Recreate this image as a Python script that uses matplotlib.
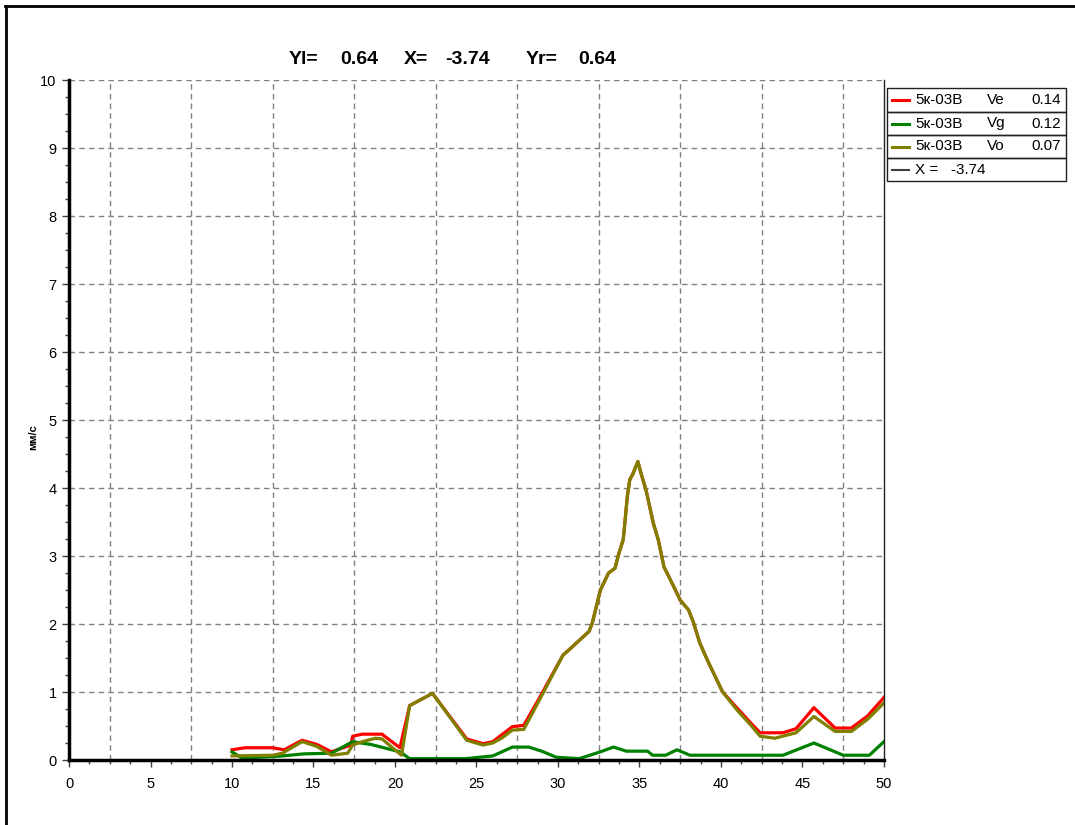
import numpy as np
from matplotlib import pyplot as plt
from matplotlib.lines import Line2D
from matplotlib.patches import Rectangle
from matplotlib.ticker import MultipleLocator

# Ve (red)
x_ve = [10.0, 10.8, 12.5, 13.2, 14.3, 15.2, 16.1, 17.3, 17.4, 18.0, 19.2, 20.3,
        20.9, 22.3, 24.4, 25.4, 26.0, 26.6, 27.2, 27.9, 28.9, 30.3, 30.9, 31.9,
        32.1, 32.6, 33.1, 33.5, 33.7, 34.0, 34.1, 34.25, 34.4, 34.6, 34.9, 35.1,
        35.4, 35.85, 36.15, 36.5, 37.1, 37.5, 38.0, 38.3, 38.7, 39.2, 40.1, 41.0,
        41.8, 42.4, 43.8, 44.6, 45.7, 47.0, 48.0, 49.0, 50.0]
ve = [0.15, 0.18, 0.18, 0.15, 0.29, 0.23, 0.12, 0.22, 0.35, 0.38, 0.38, 0.18,
      0.80, 0.98, 0.31, 0.24, 0.27, 0.38, 0.49, 0.51, 0.93, 1.54, 1.67, 1.89,
      2.01, 2.50, 2.75, 2.82, 3.01, 3.24, 3.48, 3.87, 4.12, 4.21, 4.39, 4.21,
      3.97, 3.48, 3.24, 2.84, 2.55, 2.35, 2.21, 2.03, 1.72, 1.45, 1.00, 0.76,
      0.55, 0.40, 0.40, 0.46, 0.77, 0.47, 0.47, 0.65, 0.92]

# Vg (green)
x_vg = [10.0, 10.6, 11.7, 13.1, 14.4, 16.1, 17.4, 17.9, 18.5, 20.3, 20.9, 24.3,
        26.0, 27.2, 28.2, 29.0, 29.9, 31.3, 32.6, 33.4, 34.2, 35.5, 35.8, 36.6,
        37.3, 38.1, 43.8, 45.7, 47.5, 49.1, 50.0]
vg = [0.12, 0.03, 0.04, 0.06, 0.09, 0.10, 0.27, 0.25, 0.23, 0.12, 0.02, 0.02,
      0.06, 0.19, 0.19, 0.13, 0.04, 0.02, 0.12, 0.19, 0.13, 0.13, 0.07, 0.07,
      0.15, 0.07, 0.07, 0.25, 0.07, 0.07, 0.27]

# Vo (olive)
x_vo = [10.0, 12.5, 13.1, 14.3, 15.2, 16.1, 17.1, 17.4, 18.0, 18.8, 19.2, 20.4,
        20.9, 22.3, 24.4, 25.4, 26.0, 26.6, 27.2, 27.9, 28.9, 30.3, 30.9, 31.9,
        32.1, 32.6, 33.1, 33.5, 33.7, 34.0, 34.1, 34.25, 34.4, 34.6, 34.9, 35.1,
        35.4, 35.85, 36.15, 36.5, 37.1, 37.5, 38.0, 38.3, 38.7, 39.2, 40.1, 41.0,
        41.8, 42.4, 43.3, 44.6, 45.7, 47.0, 48.0, 49.0, 50.0]
vo = [0.06, 0.07, 0.10, 0.27, 0.20, 0.07, 0.10, 0.22, 0.27, 0.32, 0.31, 0.07,
      0.80, 0.98, 0.29, 0.22, 0.25, 0.33, 0.44, 0.45, 0.90, 1.54, 1.67, 1.89,
      2.01, 2.50, 2.75, 2.82, 3.01, 3.24, 3.48, 3.87, 4.12, 4.21, 4.39, 4.21,
      3.97, 3.48, 3.24, 2.84, 2.55, 2.35, 2.21, 2.03, 1.72, 1.45, 1.00, 0.73,
      0.52, 0.35, 0.32, 0.40, 0.64, 0.42, 0.42, 0.60, 0.84]

legend_rows = [("5к-03В", "Ve", "0.14", "#ff0000"),
               ("5к-03В", "Vg", "0.12", "#008000"),
               ("5к-03В", "Vo", "0.07", "#808000")]
cursor_x = "-3.74"
title_parts = ["Yl=", "0.64", "X=", "-3.74", "Yr=", "0.64"]

plt.rcParams['font.family'] = ['Liberation Sans', 'DejaVu Sans']

W, H = 1075, 825
fig = plt.figure(figsize=(W / 100, H / 100), dpi=100)
ax = fig.add_axes([69 / W, 1 - 760 / H, (884 - 69) / W, (760 - 80) / H])

grid_kw = dict(color='#808080', lw=1, ls=(0, (4, 3)), zorder=1)
for gx in np.arange(2.5, 50, 5):
    ax.axvline(gx, **grid_kw)
for gy in range(1, 11):
    ax.axhline(gy, **grid_kw)

ax.plot(x_ve, ve, color='#ff0000', lw=2.3, zorder=3)
ax.plot(x_vg, vg, color='#008000', lw=2.3, zorder=4)
ax.plot(x_vo, vo, color='#808000', lw=2.3, zorder=5)

ax.set_xlim(0, 50)
ax.set_ylim(0, 10)
ax.xaxis.set_major_locator(MultipleLocator(5))
ax.xaxis.set_minor_locator(MultipleLocator(1.25))
ax.yaxis.set_major_locator(MultipleLocator(1))
ax.yaxis.set_minor_locator(MultipleLocator(0.25))
ax.tick_params(which='major', length=5, width=1, labelsize=10.5, color='#404040')
ax.tick_params(axis='x', which='major', pad=7)
ax.tick_params(axis='y', which='major', pad=4)
ax.tick_params(which='minor', length=3, width=1, color='#404040')
ax.spines['top'].set_visible(False)
ax.spines['left'].set_linewidth(2.5)
ax.spines['bottom'].set_linewidth(2.5)
ax.spines['right'].set_linewidth(1)
ax.spines['right'].set_color('#202020')
for s in ax.spines.values():
    s.set_zorder(6)

# title pieces at their own positions (left edges in pixels)
title_x = [289, 340, 404, 445, 526, 578]
for px, part in zip(title_x, title_parts):
    fig.text(px / W, 1 - 60 / H, part, ha='left', va='center',
             fontsize=14, fontweight='bold')
fig.text(33 / W, 1 - 437 / H, "мм/с", rotation=90, ha='center', va='center',
         fontsize=8, fontweight='bold')

# legend table
x0, x1 = 887, 1066
row_tops = [88, 112, 135, 158, 181]
for i in range(4):
    yt, yb = row_tops[i], row_tops[i + 1]
    fig.patches.append(Rectangle((x0 / W, 1 - yb / H), (x1 - x0) / W,
                                 (yb - yt) / H, transform=fig.transFigure,
                                 fill=False, ec='#202020', lw=1))
    yc = 1 - (yt + yb) / 2 / H
    if i < 3:
        name, comp, val, col = legend_rows[i]
        fig.lines.append(Line2D([892 / W, 909 / W], [yc, yc], color=col, lw=2.2,
                                transform=fig.transFigure))
        fig.text(915 / W, yc, name, fontsize=11, va='center')
        fig.text(987 / W, yc, comp, fontsize=11, va='center')
        fig.text(1061 / W, yc, val, fontsize=11, va='center', ha='right')
    else:
        fig.lines.append(Line2D([892 / W, 909 / W], [yc, yc], color='#404040', lw=1.5,
                                transform=fig.transFigure))
        fig.text(915 / W, yc, "X =   " + cursor_x, fontsize=11, va='center')

# outer frame
fig.lines.append(Line2D([5 / W, 1], [1 - 6 / H, 1 - 6 / H], color='black', lw=2,
                        transform=fig.transFigure))
fig.lines.append(Line2D([6 / W, 6 / W], [0, 1 - 6 / H], color='black', lw=2,
                        transform=fig.transFigure))

fig.savefig('out.png', dpi=100)
